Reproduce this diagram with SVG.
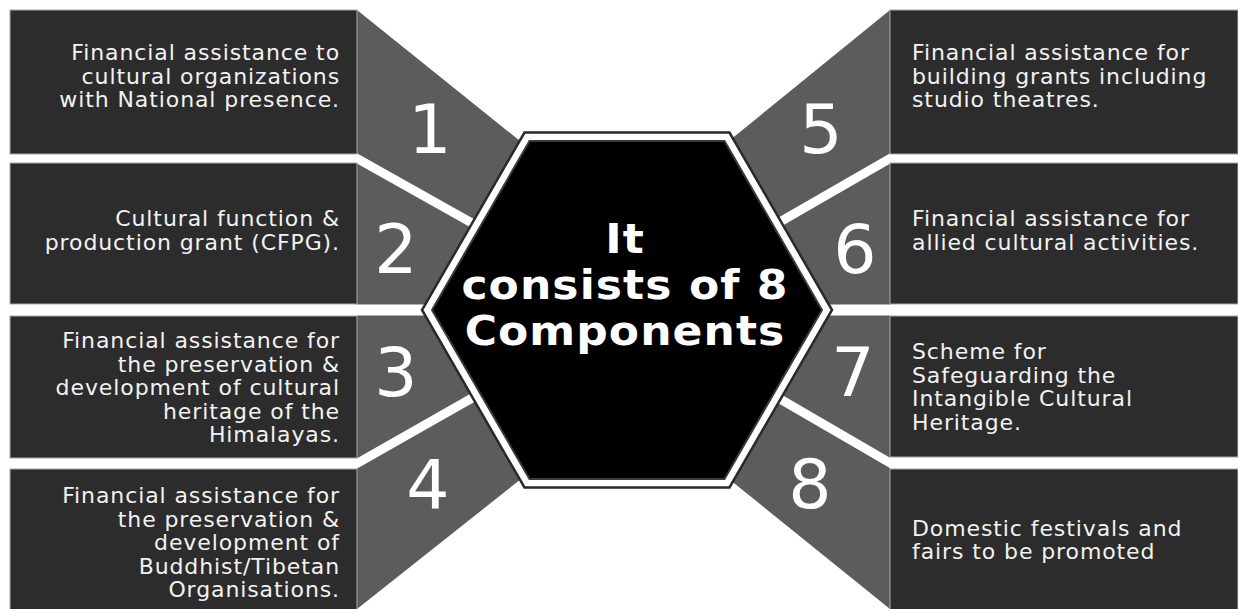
<svg xmlns="http://www.w3.org/2000/svg" width="1238" height="609" viewBox="0 0 1238 609">
<style>
.box{fill:#2c2c2c;stroke:#a8a8a8;stroke-width:1}
.wedge{fill:#5c5c5c}
.num{font-family:"DejaVu Sans","Liberation Sans",sans-serif;font-size:68px;fill:#ffffff;text-anchor:middle}
.txt{font-family:"DejaVu Sans","Liberation Sans",sans-serif;font-size:22px;letter-spacing:0.9px;fill:#f2f2f2}
.l{text-anchor:end}
.r{text-anchor:start}
.ray{stroke:#ffffff;stroke-width:9;fill:none}
.title{font-family:"DejaVu Sans","Liberation Sans",sans-serif;font-size:40px;letter-spacing:1px;font-weight:bold;fill:#ffffff;text-anchor:middle}
</style>
<rect width="1238" height="609" fill="#ffffff"/>
<g id="wedges">
<polygon class="wedge" points="357,10 540,157 627,310 357,158.5"/>
<polygon class="wedge" points="357,158.5 627,310 357,310"/>
<polygon class="wedge" points="357,310 627,310 357,463.5"/>
<polygon class="wedge" points="357,463.5 627,310 540,464 357,609"/>
<polygon class="wedge" points="890,10 714,153 627,310 890,158.5"/>
<polygon class="wedge" points="890,158.5 627,310 890,310"/>
<polygon class="wedge" points="890,310 627,310 890,463"/>
<polygon class="wedge" points="890,463 627,310 714,467 890,609"/>
</g>
<g id="connectors">
<line class="ray" x1="340" y1="148.9" x2="627" y2="310"/>
<line class="ray" x1="340" y1="310" x2="627" y2="310" style="stroke-width:11"/>
<line class="ray" x1="340" y1="473.1" x2="627" y2="310"/>
<line class="ray" x1="905" y1="149.9" x2="627" y2="310"/>
<line class="ray" x1="890" y1="310" x2="627" y2="310" style="stroke-width:11"/>
<line class="ray" x1="905" y1="471.7" x2="627" y2="310"/>
</g>
<g id="item1">
<rect class="box" x="10" y="10" width="347" height="144"/>
<text class="num" x="430" y="153">1</text>
<text class="txt l" x="340"><tspan x="340" y="60">Financial assistance to</tspan><tspan x="340" y="83.5">cultural organizations</tspan><tspan x="340" y="107">with National presence.</tspan></text>
</g>
<g id="item2">
<rect class="box" x="10" y="163" width="347" height="141"/>
<text class="num" x="396" y="273">2</text>
<text class="txt l" x="340"><tspan x="340" y="226">Cultural function &amp;</tspan><tspan x="340" y="249.5">production grant (CFPG).</tspan></text>
</g>
<g id="item3">
<rect class="box" x="10" y="316" width="347" height="142"/>
<text class="num" x="396" y="396">3</text>
<text class="txt l" x="340"><tspan x="340" y="348">Financial assistance for</tspan><tspan x="340" y="371.5">the preservation &amp;</tspan><tspan x="340" y="395">development of cultural</tspan><tspan x="340" y="418.5">heritage of the</tspan><tspan x="340" y="442">Himalayas.</tspan></text>
</g>
<g id="item4">
<rect class="box" x="10" y="469" width="347" height="141"/>
<text class="num" x="428" y="509">4</text>
<text class="txt l" x="340"><tspan x="340" y="503">Financial assistance for</tspan><tspan x="340" y="526.5">the preservation &amp;</tspan><tspan x="340" y="550">development of</tspan><tspan x="340" y="573.5">Buddhist/Tibetan</tspan><tspan x="340" y="597">Organisations.</tspan></text>
</g>
<g id="item5">
<rect class="box" x="890" y="10" width="348" height="144"/>
<text class="num" x="821" y="153">5</text>
<text class="txt r" x="912"><tspan x="912" y="60">Financial assistance for</tspan><tspan x="912" y="83.5">building grants including</tspan><tspan x="912" y="107">studio theatres.</tspan></text>
</g>
<g id="item6">
<rect class="box" x="890" y="163" width="348" height="141"/>
<text class="num" x="855" y="273">6</text>
<text class="txt r" x="912"><tspan x="912" y="226">Financial assistance for</tspan><tspan x="912" y="249.5">allied cultural activities.</tspan></text>
</g>
<g id="item7">
<rect class="box" x="890" y="316" width="348" height="141"/>
<text class="num" x="853" y="396">7</text>
<text class="txt r" x="912"><tspan x="912" y="359">Scheme for</tspan><tspan x="912" y="382.5">Safeguarding the</tspan><tspan x="912" y="406">Intangible Cultural</tspan><tspan x="912" y="429.5">Heritage.</tspan></text>
</g>
<g id="item8">
<rect class="box" x="890" y="469" width="348" height="141"/>
<text class="num" x="810" y="508">8</text>
<text class="txt r" x="912"><tspan x="912" y="536">Domestic festivals and</tspan><tspan x="912" y="559">fairs to be promoted</tspan></text>
</g>
<g id="center">
<polygon points="832,310 729.5,132.5 524.5,132.5 422,310 524.5,487.5 729.5,487.5" fill="#ffffff" stroke="#2a2a2a" stroke-width="2.5"/>
<polygon points="822,310 724.5,141.1 529.5,141.1 432,310 529.5,478.9 724.5,478.9" fill="#000000" stroke="#3a3a3a" stroke-width="2"/>
<g transform="translate(625 0) scale(1.1 1)">
<text class="title" x="0" y="253">It</text>
<text class="title" x="0" y="299">consists of 8</text>
<text class="title" x="0" y="345">Components</text>
</g>
</g>
</svg>
